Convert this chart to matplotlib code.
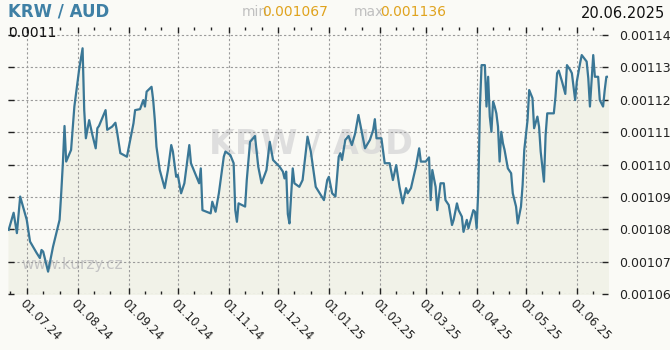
# KRW / AUD exchange rate, one year
import numpy as np
import pandas as pd
import matplotlib
matplotlib.use("Agg")
import matplotlib.pyplot as plt
import matplotlib.dates as mdates
from matplotlib.ticker import FixedLocator

# data
dates = [
    "2024-06-20", "2024-06-23", "2024-06-25", "2024-06-27",
    "2024-07-01", "2024-07-03", "2024-07-07", "2024-07-09", "2024-07-10", "2024-07-11",
    "2024-07-14", "2024-07-17", "2024-07-21", "2024-07-22", "2024-07-23", "2024-07-24",
    "2024-07-25", "2024-07-28", "2024-07-30",
    "2024-08-02", "2024-08-04", "2024-08-05", "2024-08-06", "2024-08-08", "2024-08-10",
    "2024-08-12", "2024-08-13", "2024-08-14", "2024-08-18", "2024-08-19", "2024-08-22",
    "2024-08-24", "2024-08-25", "2024-08-27", "2024-08-31",
    "2024-09-02", "2024-09-04", "2024-09-05", "2024-09-08", "2024-09-10", "2024-09-11",
    "2024-09-12", "2024-09-15", "2024-09-16", "2024-09-17", "2024-09-18", "2024-09-20",
    "2024-09-23", "2024-09-25", "2024-09-27", "2024-09-28", "2024-09-30",
    "2024-10-01", "2024-10-03", "2024-10-05", "2024-10-08", "2024-10-09", "2024-10-14",
    "2024-10-15", "2024-10-16", "2024-10-21", "2024-10-22", "2024-10-24", "2024-10-26",
    "2024-10-29", "2024-10-30",
    "2024-11-02", "2024-11-04", "2024-11-05", "2024-11-06", "2024-11-07", "2024-11-11",
    "2024-11-12", "2024-11-14", "2024-11-17", "2024-11-19", "2024-11-21", "2024-11-24",
    "2024-11-26", "2024-11-28",
    "2024-12-02", "2024-12-04", "2024-12-05", "2024-12-06", "2024-12-07", "2024-12-08",
    "2024-12-09", "2024-12-10", "2024-12-11", "2024-12-14", "2024-12-16", "2024-12-19",
    "2024-12-21", "2024-12-24", "2024-12-29", "2024-12-31",
    "2025-01-01", "2025-01-03", "2025-01-05", "2025-01-07", "2025-01-08", "2025-01-09",
    "2025-01-11", "2025-01-13", "2025-01-15", "2025-01-17", "2025-01-19", "2025-01-21",
    "2025-01-23", "2025-01-26", "2025-01-28", "2025-01-29", "2025-01-30",
    "2025-02-02", "2025-02-04", "2025-02-07", "2025-02-09", "2025-02-11", "2025-02-13",
    "2025-02-15", "2025-02-17", "2025-02-18", "2025-02-20", "2025-02-23", "2025-02-25",
    "2025-02-26",
    "2025-03-01", "2025-03-03", "2025-03-04", "2025-03-05", "2025-03-07", "2025-03-08",
    "2025-03-10", "2025-03-12", "2025-03-13", "2025-03-15", "2025-03-17", "2025-03-18",
    "2025-03-20", "2025-03-21", "2025-03-23", "2025-03-24", "2025-03-26", "2025-03-27",
    "2025-03-30", "2025-03-31",
    "2025-04-01", "2025-04-02", "2025-04-03", "2025-04-04", "2025-04-06", "2025-04-07",
    "2025-04-08", "2025-04-09", "2025-04-10", "2025-04-11", "2025-04-12", "2025-04-13",
    "2025-04-14", "2025-04-15", "2025-04-16", "2025-04-17", "2025-04-18", "2025-04-20",
    "2025-04-22", "2025-04-23", "2025-04-25", "2025-04-26", "2025-04-28", "2025-04-29",
    "2025-04-30",
    "2025-05-02", "2025-05-03", "2025-05-05", "2025-05-06", "2025-05-08", "2025-05-09",
    "2025-05-10", "2025-05-12", "2025-05-13", "2025-05-14", "2025-05-18", "2025-05-19",
    "2025-05-20", "2025-05-21", "2025-05-23", "2025-05-25", "2025-05-26", "2025-05-28",
    "2025-05-29", "2025-05-31",
    "2025-06-01", "2025-06-03", "2025-06-04", "2025-06-07", "2025-06-08", "2025-06-09",
    "2025-06-11", "2025-06-12", "2025-06-14", "2025-06-15", "2025-06-17", "2025-06-18",
    "2025-06-19", "2025-06-20",
]
rates_e6 = [
    1079.8, 1085.1, 1078.8, 1090.1,
    1082.9, 1076.2, 1072.7, 1071.1, 1073.6, 1073.1,
    1066.9, 1074.6, 1082.9, 1091.2, 1100.4, 1111.9,
    1100.9, 1104.5, 1117.9,
    1129.7, 1135.9, 1116.8, 1108.1, 1113.7, 1109.1,
    1105.0, 1111.2, 1111.9, 1116.8, 1110.7, 1111.7,
    1112.9, 1110.1, 1103.5, 1102.4,
    1107.6, 1112.7, 1116.8, 1117.1, 1119.9, 1117.9,
    1122.5, 1124.0, 1119.9, 1113.7, 1105.5, 1098.3,
    1092.7, 1098.3, 1106.0, 1104.0, 1096.2,
    1096.8, 1091.1, 1094.2, 1106.0, 1100.4, 1094.2,
    1098.8, 1085.9, 1084.9, 1088.5, 1085.4, 1091.1,
    1102.4, 1104.0,
    1102.9, 1100.4, 1085.9, 1082.3, 1088.0, 1087.0,
    1095.2, 1107.0, 1108.8, 1099.3, 1094.2, 1098.3,
    1107.0, 1101.4,
    1099.3, 1097.8, 1095.7, 1097.8, 1084.7, 1081.8,
    1090.1, 1098.8, 1094.2, 1093.1, 1095.2, 1108.6,
    1104.0, 1093.1, 1089.0, 1095.2,
    1096.2, 1091.1, 1090.1, 1102.4, 1103.5, 1101.4,
    1107.6, 1108.8, 1106.0, 1109.6, 1115.3, 1110.1,
    1105.0, 1107.6, 1110.7, 1114.0, 1108.1,
    1108.1, 1100.4, 1100.4, 1095.2, 1099.8, 1093.1,
    1088.0, 1092.7, 1091.1, 1092.7, 1099.3, 1105.0,
    1100.9,
    1100.9, 1102.2, 1089.0, 1098.3, 1093.1, 1085.9,
    1094.2, 1094.2, 1089.0, 1087.5, 1081.3, 1082.9,
    1088.0, 1085.9, 1083.9, 1079.2, 1082.9, 1080.3,
    1085.9, 1085.4,
    1080.3, 1092.1, 1117.9, 1130.7, 1130.7, 1117.9,
    1127.1, 1114.8, 1110.1, 1119.4, 1117.9, 1115.8,
    1111.7, 1100.9, 1110.1, 1106.6, 1104.5, 1098.8,
    1097.3, 1091.1, 1087.0, 1081.8, 1087.0, 1093.7,
    1104.5,
    1113.7, 1123.0, 1120.5, 1111.2, 1114.8, 1111.7,
    1104.0, 1094.7, 1109.1, 1115.8, 1115.8, 1120.9,
    1128.2, 1129.0, 1125.6, 1121.8, 1130.7, 1129.2,
    1128.2, 1119.9,
    1125.6, 1131.3, 1133.8, 1131.8, 1126.6, 1117.9,
    1133.8, 1127.1, 1127.1, 1119.9, 1117.9, 1123.0,
    1127.1, 1127.1,
]
y_ticks = [0.00106, 0.00107, 0.00108, 0.00109, 0.00110, 0.00111, 0.00112, 0.00113, 0.00114]
month_ticks = ["2024-07-01", "2024-08-01", "2024-09-01", "2024-10-01", "2024-11-01",
               "2024-12-01", "2025-01-01", "2025-02-01", "2025-03-01", "2025-04-01",
               "2025-05-01", "2025-06-01"]

x = pd.to_datetime(dates)
rates = np.array(rates_e6) * 1e-6

bg = "#fafaf6"
line_col = "#3a7796"

fig = plt.figure(figsize=(6.7, 3.5), dpi=100, facecolor=bg)
ax = fig.add_axes([8 / 670, 56 / 350, 600 / 670, 267 / 350])
ax.set_facecolor(bg)

ax.fill_between(x, rates, 0.00106, color="#f1f2e8", zorder=1)
ax.plot(x, rates, color=line_col, linewidth=1.6, zorder=4)

ax.set_xlim(pd.Timestamp("2024-06-19 14:00"), pd.Timestamp("2025-06-20 00:00"))
ax.set_ylim(0.00106, 0.00106 + 267 / 32.375 * 1e-5)

# watermarks
ax.text(0.505, 0.56, "KRW / AUD", transform=ax.transAxes, ha="center", va="center",
        fontsize=24, fontweight="bold", color="#d8d8d8", alpha=0.8, zorder=2)
ax.text(0.023, 0.11, "www.kurzy.cz", transform=ax.transAxes, ha="left", va="center",
        fontsize=11, color="#c4c4c4", zorder=2)

# axes / ticks
for s in ax.spines.values():
    s.set_visible(False)
ax.xaxis.set_major_locator(FixedLocator(mdates.date2num(pd.to_datetime(month_ticks))))
ax.xaxis.set_major_formatter(mdates.DateFormatter("%d.%m.%y"))
ax.xaxis.set_minor_locator(mdates.DayLocator(bymonthday=[11, 21]))
ax.tick_params(axis="x", which="major", top=True, bottom=True, direction="in",
               length=4, width=1, color="#222222", pad=2, labelsize=8.5, labelcolor="#222222")
ax.tick_params(axis="x", which="minor", top=True, bottom=True, direction="in",
               length=2.5, width=1, color="#222222")
for lab in ax.get_xticklabels():
    lab.set_rotation(-45)
    lab.set_ha("left")
    lab.set_va("top")
    lab.set_rotation_mode("anchor")

ax.set_yticks(y_ticks)
ax.yaxis.set_major_formatter(plt.FuncFormatter(lambda v, p: f"{v:.5f}"))
ax.tick_params(axis="y", which="major", left=True, right=True, labelleft=False,
               labelright=True, direction="in", length=4, width=1, color="#222222",
               pad=8, labelsize=9, labelcolor="#222222")

ax.grid(True, which="major", color="#9a9a9a", linestyle=(0, (2, 2)), linewidth=0.8, zorder=3)
ax.set_axisbelow(False)
for gl in ax.get_xgridlines() + ax.get_ygridlines():
    gl.set_zorder(3)

# header texts
fig.text(8 / 670, 1 - 12 / 350, "KRW / AUD", fontsize=12, fontweight="bold",
         color="#3f80a5", ha="left", va="center")
fig.text(242 / 670, 1 - 12 / 350, "min", fontsize=10, color="#c0c0c0", ha="left", va="center")
fig.text(262 / 670, 1 - 12 / 350, "0.001067", fontsize=10, color="#e0a31e", ha="left", va="center")
fig.text(354 / 670, 1 - 12 / 350, "max", fontsize=10, color="#c0c0c0", ha="left", va="center")
fig.text(380 / 670, 1 - 12 / 350, "0.001136", fontsize=10, color="#e0a31e", ha="left", va="center")
fig.text(665 / 670, 1 - 14 / 350, "20.06.2025", fontsize=10.5, color="#111111", ha="right", va="center")
fig.text(8 / 670, 1 - 33 / 350, "0.0011", fontsize=10, color="#111111", ha="left", va="center")

fig.savefig("out.png", dpi=100, facecolor=bg)
